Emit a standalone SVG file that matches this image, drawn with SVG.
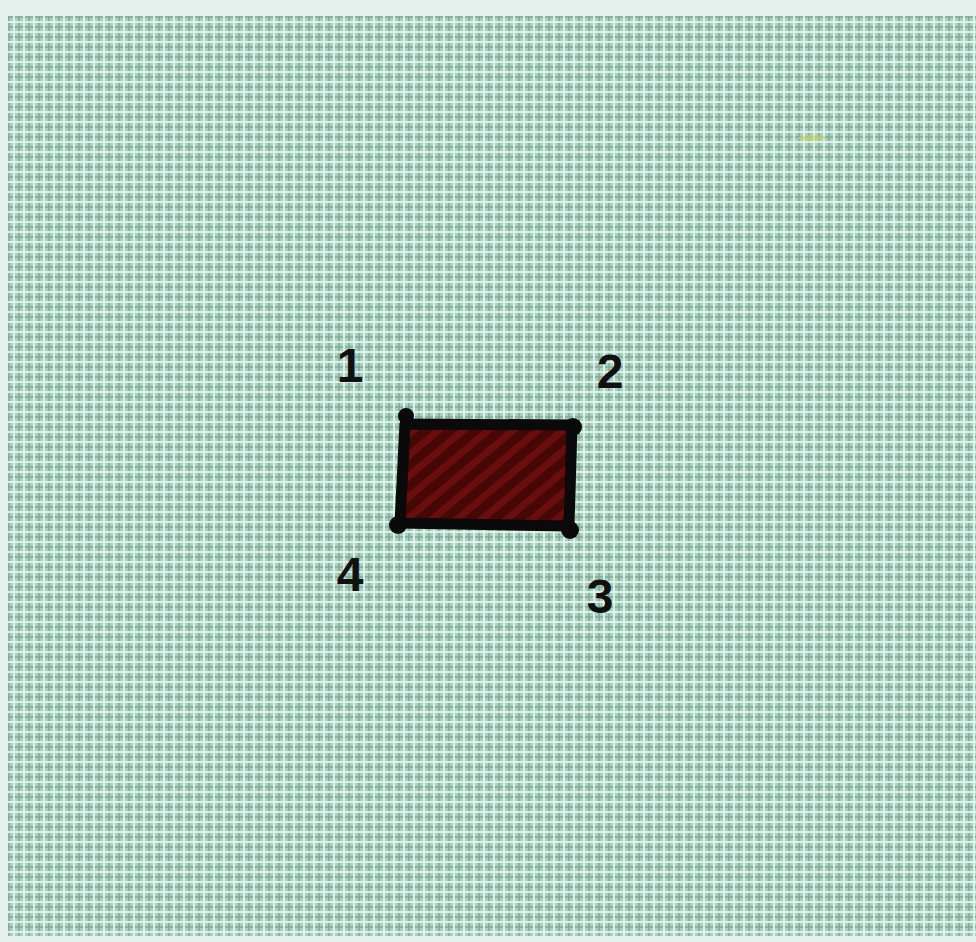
<svg xmlns="http://www.w3.org/2000/svg" width="976" height="942" viewBox="0 0 976 942">
<defs>
<pattern id="grid" x="8" y="16" width="10" height="10" patternUnits="userSpaceOnUse">
<rect width="10" height="10" fill="#a9d0c0"/>
<rect x="0" y="0" width="10" height="2" fill="#82ab98" opacity="0.8"/>
<rect x="0" y="0" width="2" height="10" fill="#82ab98" opacity="0.8"/>
<rect x="0" y="5" width="10" height="2" fill="#e2f6ee" opacity="0.9"/>
<rect x="5" y="0" width="2" height="10" fill="#e2f6ee" opacity="0.9"/>
</pattern>
<pattern id="hatch" width="16" height="16" patternUnits="userSpaceOnUse" patternTransform="rotate(50)">
<rect width="16" height="16" fill="#460707"/>
<rect width="7" height="16" fill="#6c0d0d"/>
</pattern>
<style>
.num{font-family:"Liberation Sans",Arial,sans-serif;font-weight:bold;font-size:48px;fill:#111;text-anchor:middle}
.edge{stroke:#0a0a0a;stroke-width:11;stroke-linecap:round;stroke-linejoin:round;fill:none}
.dot{fill:#0a0a0a}
</style>
</defs>
<rect width="976" height="942" fill="#e3f0eb"/>
<rect x="8" y="16" width="968" height="920" fill="url(#grid)"/>
<ellipse cx="812" cy="138" rx="14" ry="3" fill="#c8d860" opacity="0.6"/>
<g id="rectangle">
<polygon points="405,424 572,425 569,526 400,523" fill="url(#hatch)"/>
<polygon class="edge" points="405,424 572,425 569,526 400,523"/>
<circle class="dot" cx="406" cy="416" r="8"/>
<circle class="dot" cx="573" cy="427" r="9"/>
<circle class="dot" cx="570" cy="530" r="9"/>
<circle class="dot" cx="398" cy="525" r="9"/>
</g>
<g id="label-1"><text class="num" x="350" y="382">1</text></g>
<g id="label-2"><text class="num" x="610" y="388">2</text></g>
<g id="label-3"><text class="num" x="600" y="613">3</text></g>
<g id="label-4"><text class="num" x="350" y="591">4</text></g>
</svg>
